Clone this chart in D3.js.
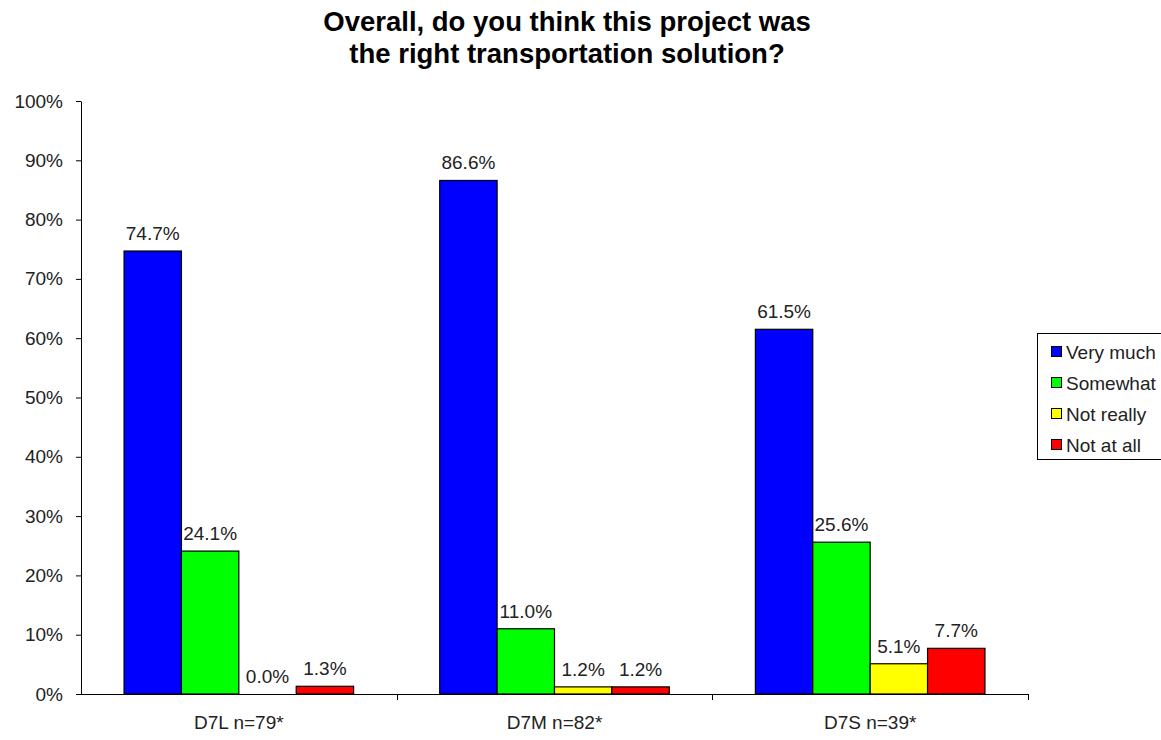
<!DOCTYPE html>
<html>
<head>
<meta charset="utf-8">
<script src="https://cdn.jsdelivr.net/npm/d3@7"></script>
<style>
  html, body { margin: 0; padding: 0; background: #fff; }
  svg { display: block; font-family: "Liberation Sans", Arial, sans-serif; }
</style>
</head>
<body>
<svg id="chart" width="1161" height="740"></svg>
<script>
// Survey groups and answer shares (percent)
const categories = ["D7L n=79*", "D7M n=82*", "D7S n=39*"];
const seriesNames = ["Very much", "Somewhat", "Not really", "Not at all"];
const seriesColors = ["#0000ff", "#00ff00", "#ffff00", "#ff0000"];
const veryMuch = [74.7, 86.6, 61.5];
const somewhat = [24.1, 11.0, 25.6];
const notReally = [0.0, 1.2, 5.1];
const notAtAll = [1.3, 1.2, 7.7];
const yTicks = [0, 10, 20, 30, 40, 50, 60, 70, 80, 90, 100];
const titleLines = ["Overall, do you think this project was", "the right transportation solution?"];

const seriesValues = [veryMuch, somewhat, notReally, notAtAll];
const rows = categories.map((c, i) => ({
  cat: c,
  values: seriesNames.map((s, j) => ({ key: s, value: seriesValues[j][i], color: seriesColors[j] }))
}));

const svg = d3.select("#chart");
const plot = { left: 81, right: 1028, top: 101, bottom: 694 };

const x0 = d3.scaleBand().domain(categories).range([plot.left, plot.right]).paddingInner(0).paddingOuter(0);
const x1 = d3.scaleBand().domain(seriesNames).range([0, x0.bandwidth()]).paddingOuter(0.75).paddingInner(0);
const y = d3.scaleLinear().domain([0, 100]).range([plot.bottom, plot.top]);

// Title
svg.append("g").selectAll("text").data(titleLines).join("text")
  .attr("x", 567).attr("y", (d, i) => 31 + i * 32)
  .attr("text-anchor", "middle")
  .attr("font-size", 27.5).attr("font-weight", "bold").attr("fill", "#000")
  .text(d => d);

// Y axis
const yAxis = d3.axisLeft(y).tickValues(yTicks).tickSize(5).tickSizeOuter(0).tickFormat(d => d + "%");
const gy = svg.append("g").attr("transform", `translate(${plot.left},0)`).call(yAxis);
gy.select(".domain").attr("stroke", "#000");
gy.selectAll(".tick line").attr("stroke", "#000");
gy.selectAll(".tick text").attr("font-size", 19).attr("fill", "#222").attr("x", -18)
  .attr("font-family", "Liberation Sans, Arial, sans-serif");

// X axis line with ticks at group boundaries
const gx = svg.append("g");
gx.append("line").attr("x1", plot.left).attr("x2", plot.right)
  .attr("y1", plot.bottom + 0.5).attr("y2", plot.bottom + 0.5).attr("stroke", "#000");
const boundaries = categories.map(c => x0(c) + x0.bandwidth());
gx.selectAll("line.tk").data(boundaries).join("line").attr("class", "tk")
  .attr("x1", d => Math.round(d) + 0.5).attr("x2", d => Math.round(d) + 0.5)
  .attr("y1", plot.bottom).attr("y2", plot.bottom + 6).attr("stroke", "#000");
gx.selectAll("text").data(categories).join("text")
  .attr("x", d => x0(d) + x0.bandwidth() / 2)
  .attr("y", 729)
  .attr("text-anchor", "middle").attr("font-size", 19).attr("fill", "#222")
  .text(d => d);

// Bars
const groups = svg.append("g").selectAll("g").data(rows).join("g")
  .attr("transform", d => `translate(${x0(d.cat)},0)`);

groups.selectAll("rect").data(d => d.values.filter(v => v.value > 0)).join("rect")
  .attr("x", d => x1(d.key))
  .attr("y", d => y(d.value))
  .attr("width", x1.bandwidth())
  .attr("height", d => y(0) - y(d.value))
  .attr("fill", d => d.color)
  .attr("stroke", "#000").attr("stroke-width", 1.2);

groups.selectAll("text").data(d => d.values).join("text")
  .attr("x", d => x1(d.key) + x1.bandwidth() / 2)
  .attr("y", d => y(d.value) - 11)
  .attr("text-anchor", "middle").attr("font-size", 19).attr("fill", "#222")
  .text(d => d.value.toFixed(1) + "%");

// Legend
const legend = svg.append("g").attr("transform", "translate(1037,333)");
legend.append("rect").attr("x", 0.5).attr("y", 0.5).attr("width", 135).attr("height", 126)
  .attr("fill", "#fff").attr("stroke", "#000");
const items = legend.selectAll("g").data(seriesNames).join("g")
  .attr("transform", (d, i) => `translate(0,${19 + i * 31})`);
items.append("rect").attr("x", 14.5).attr("y", -5.5).attr("width", 10).attr("height", 10)
  .attr("fill", (d, i) => seriesColors[i]).attr("stroke", "#000");
items.append("text").attr("x", 29).attr("y", 7)
  .attr("font-size", 19).attr("fill", "#222").text(d => d);
</script>
</body>
</html>
